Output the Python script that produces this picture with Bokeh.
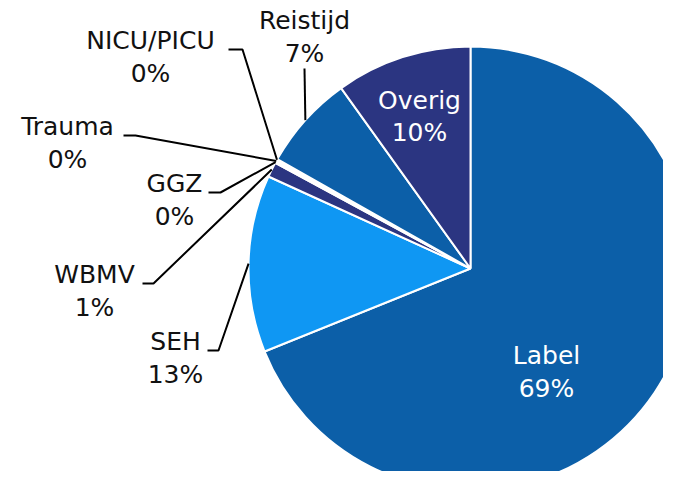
import math
from bokeh.plotting import figure
from bokeh.models import Range1d, ColumnDataSource
from bokeh.core.properties import value
from bokeh.embed import file_html
from bokeh.resources import INLINE

# ---- data ----
categories = ["Label", "SEH", "WBMV", "GGZ", "Trauma", "NICU/PICU", "Reistijd", "Overig"]
shares = [68.9, 12.9, 1.1, 0.1, 0.1, 0.1, 6.9, 9.9]
colors = ["#0c5fa8", "#0f97f3", "#2b3581", "#0f97f3", "#0c5fa8", "#2b3581", "#0c5fa8", "#2b3581"]

# ---- layout (page pixel coordinates of the reference) ----
W, H = 679, 487
FW, FH = W - 16, H - 16
CX, CY, R = 470, 268, 222
TEXT_SHIFT = -9
# text anchor (center x, name baseline y, percent baseline y)
label_pos = {
    "Label": (546, 364, 397),
    "SEH": (175, 350, 383),
    "WBMV": (94, 283, 316),
    "GGZ": (174, 192, 225),
    "Trauma": (67, 135, 168),
    "NICU/PICU": (150, 49, 82),
    "Reistijd": (304, 29, 62),
    "Overig": (419, 109, 141),
}
inside = {"Label", "Overig"}
# leader: start point and elbow point (page coords); end = pie edge at mid-angle
leaders = {
    "SEH": [(207, 350), (218, 350)],
    "WBMV": [(142, 283), (153, 283)],
    "GGZ": [(208, 192), (220, 192)],
    "Trauma": [(123, 135), (135, 135)],
    "NICU/PICU": [(228, 49), (242, 49)],
    "Reistijd": [(304, 68), (304, 68)],
}

def py(Y):
    return H - Y

p = figure(width=FW, height=FH, output_backend="svg", toolbar_location=None,
           x_range=Range1d(0, FW), y_range=Range1d(H - FH, H), min_border=0)
p.axis.visible = False
p.grid.visible = False
p.outline_line_color = None
p.background_fill_color = "white"
p.border_fill_color = "white"

total = sum(shares)
starts, ends, mids = [], [], []
cum = 0.0
for v in shares:
    a0 = cum / total * 2 * math.pi
    cum += v
    a1 = cum / total * 2 * math.pi
    starts.append(math.pi / 2 - a0)
    ends.append(math.pi / 2 - a1)
    mids.append(math.pi / 2 - (a0 + a1) / 2)

src = ColumnDataSource(dict(start=starts, end=ends, color=colors, cat=categories))
p.wedge(x=CX, y=py(CY), radius=R, start_angle="start", end_angle="end", direction="clock",
        fill_color="color", line_color="white", line_width=2, source=src)

# leader lines
lx, ly = [], []
for cat, mid in zip(categories, mids):
    if cat in leaders:
        pts = leaders[cat]
        ex = CX + R * math.cos(mid)
        ey = py(CY) + R * math.sin(mid)
        lx.append([pts[0][0], pts[1][0], ex])
        ly.append([py(pts[0][1]), py(pts[1][1]), ey])
p.multi_line(xs=lx, ys=ly, line_color="black", line_width=2)

# labels
tx, ty, tt, tc = [], [], [], []
for cat, v in zip(categories, shares):
    x, y1, y2 = label_pos[cat]
    col = "white" if cat in inside else "#111111"
    tx += [x, x]
    ty += [py(y1 + TEXT_SHIFT), py(y2 + TEXT_SHIFT)]
    tt += [cat, f"{round(v / total * 100)}%"]
    tc += [col, col]
p.text(x=tx, y=ty, text=tt, text_color=tc, text_align="center", text_baseline="alphabetic",
       text_font=value("DejaVu Sans"), text_font_size="25px")

open("out.html", "w").write(file_html(p, INLINE))
